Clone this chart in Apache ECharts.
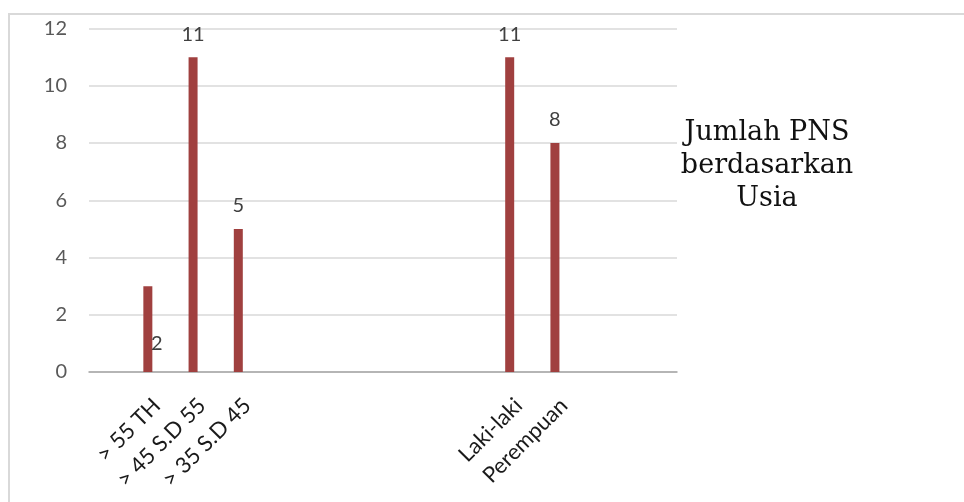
<!DOCTYPE html>
<html>
<head>
<meta charset="utf-8">
<script src="https://cdn.jsdelivr.net/npm/echarts@6/dist/echarts.min.js"></script>
<style>
  html, body { margin: 0; padding: 0; background: #ffffff; }
  #chart { width: 964px; height: 502px; }
</style>
</head>
<body>
<div id="chart"></div>
<script>
// Category slots along the x axis (empty strings are spacer slots)
const categories = ['', '> 55 TH', '> 45 S.D 55', '> 35 S.D 45', '', '', '', '', '', 'Laki-laki', 'Perempuan', '', ''];
// Number of civil servants per group
const jumlah = [null, 3, 11, 5, null, null, null, null, null, 11, 8, null, null];
// Extra note value shown as a label only
const catatan = [null, 2, null, null, null, null, null, null, null, null, null, null, null];
// Groups whose bar carries no value label
const noLabel = ['> 55 TH'];
const yTicks = { min: 0, max: 12, interval: 2 };

const chart = echarts.init(document.getElementById('chart'));

const mainData = jumlah.map((v, i) => ({
  value: v,
  label: { show: v !== null && noLabel.indexOf(categories[i]) < 0 }
}));

chart.setOption({
  animation: false,
  backgroundColor: '#ffffff',
  textStyle: { fontFamily: 'Lato' },
  title: {
    text: 'Jumlah PNS\nberdasarkan\nUsia',
    left: 762,
    top: 111,
    textAlign: 'center',
    textStyle: {
      fontFamily: 'DejaVu Serif',
      fontSize: 27,
      fontWeight: 'normal',
      color: '#111111',
      lineHeight: 33,
      align: 'center'
    }
  },
  graphic: [{
    type: 'rect',
    shape: { x: 9, y: 14, width: 1000, height: 600 },
    style: { fill: 'none', stroke: '#d9d9d9', lineWidth: 2 },
    silent: true,
    z: -1
  }],
  grid: { left: 89, right: 287, top: 28.5, bottom: 130 },
  xAxis: {
    type: 'category',
    data: categories,
    axisTick: { show: false },
    axisLine: { lineStyle: { color: '#a6a6a6', width: 1.5 } },
    axisLabel: {
      interval: 0,
      rotate: 45,
      fontSize: 22,
      fontFamily: 'Lato',
      color: '#1a1a1a',
      margin: 30
    }
  },
  yAxis: {
    type: 'value',
    min: yTicks.min,
    max: yTicks.max,
    interval: yTicks.interval,
    axisLine: { show: false },
    axisTick: { show: false },
    splitLine: { lineStyle: { color: '#d9d9d9', width: 1.5 } },
    axisLabel: { fontSize: 20, fontFamily: 'Lato', color: '#595959', margin: 22 }
  },
  series: [
    {
      name: 'Jumlah',
      type: 'bar',
      data: mainData,
      barWidth: 9,
      itemStyle: { color: '#a0403f' },
      label: {
        position: 'top',
        distance: 13,
        fontSize: 20,
        fontFamily: 'Lato',
        color: '#404040'
      }
    },
    {
      name: 'Catatan',
      type: 'bar',
      data: catatan,
      barWidth: 9,
      barGap: '100%',
      itemStyle: { color: 'rgba(0,0,0,0)' },
      label: {
        show: true,
        position: 'inside',
        offset: [-9, 0],
        fontSize: 20,
        fontFamily: 'Lato',
        color: '#404040'
      }
    }
  ]
});
</script>
</body>
</html>
